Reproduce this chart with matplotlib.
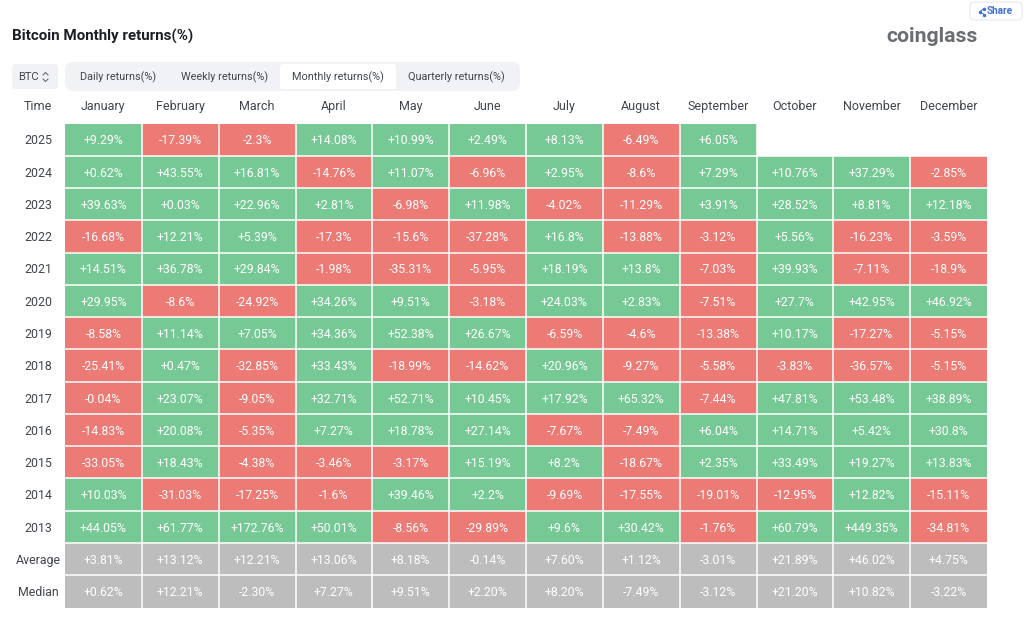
import numpy as np
import matplotlib.pyplot as plt
from matplotlib.colors import ListedColormap
from matplotlib.patches import FancyBboxPatch

plt.rcParams['font.family'] = ['Roboto', 'DejaVu Sans']

months = ['January', 'February', 'March', 'April', 'May', 'June', 'July',
          'August', 'September', 'October', 'November', 'December']
years = ['2025', '2024', '2023', '2022', '2021', '2020', '2019', '2018',
         '2017', '2016', '2015', '2014', '2013']
tabs = ['Daily returns(%)', 'Weekly returns(%)', 'Monthly returns(%)', 'Quarterly returns(%)']

r2025 = [9.29, -17.39, -2.3, 14.08, 10.99, 2.49, 8.13, -6.49, 6.05, np.nan, np.nan, np.nan]
r2024 = [0.62, 43.55, 16.81, -14.76, 11.07, -6.96, 2.95, -8.6, 7.29, 10.76, 37.29, -2.85]
r2023 = [39.63, 0.03, 22.96, 2.81, -6.98, 11.98, -4.02, -11.29, 3.91, 28.52, 8.81, 12.18]
r2022 = [-16.68, 12.21, 5.39, -17.3, -15.6, -37.28, 16.8, -13.88, -3.12, 5.56, -16.23, -3.59]
r2021 = [14.51, 36.78, 29.84, -1.98, -35.31, -5.95, 18.19, 13.8, -7.03, 39.93, -7.11, -18.9]
r2020 = [29.95, -8.6, -24.92, 34.26, 9.51, -3.18, 24.03, 2.83, -7.51, 27.7, 42.95, 46.92]
r2019 = [-8.58, 11.14, 7.05, 34.36, 52.38, 26.67, -6.59, -4.6, -13.38, 10.17, -17.27, -5.15]
r2018 = [-25.41, 0.47, -32.85, 33.43, -18.99, -14.62, 20.96, -9.27, -5.58, -3.83, -36.57, -5.15]
r2017 = [-0.04, 23.07, -9.05, 32.71, 52.71, 10.45, 17.92, 65.32, -7.44, 47.81, 53.48, 38.89]
r2016 = [-14.83, 20.08, -5.35, 7.27, 18.78, 27.14, -7.67, -7.49, 6.04, 14.71, 5.42, 30.8]
r2015 = [-33.05, 18.43, -4.38, -3.46, -3.17, 15.19, 8.2, -18.67, 2.35, 33.49, 19.27, 13.83]
r2014 = [10.03, -31.03, -17.25, -1.6, 39.46, 2.2, -9.69, -17.55, -19.01, -12.95, 12.82, -15.11]
r2013 = [44.05, 61.77, 172.76, 50.01, -8.56, -29.89, 9.6, 30.42, -1.76, 60.79, 449.35, -34.81]
average = [3.81, 13.12, 12.21, 13.06, 8.18, -0.14, 7.60, 1.12, -3.01, 21.89, 46.02, 4.75]
median = [0.62, 12.21, -2.30, 7.27, 9.51, 2.20, 8.20, -7.49, -3.12, 21.20, 10.82, -3.22]

year_rows = [r2025, r2024, r2023, r2022, r2021, r2020, r2019, r2018,
             r2017, r2016, r2015, r2014, r2013]

W, H = 1024, 620
GREEN, RED, GRAY = '#76C995', '#EC7A75', '#BDBDBD'
TXT = '#41464d'
BLUE = '#3f73d8'

fig = plt.figure(figsize=(W / 100, H / 100), dpi=100, facecolor='white')

# overlay in pixels for the page furniture
bg = fig.add_axes([0, 0, 1, 1])
bg.set_xlim(0, W)
bg.set_ylim(H, 0)
bg.axis('off')


def pill(x0, y0, w, h, r, fc, ec='none'):
    bg.add_patch(FancyBboxPatch((x0 + r, y0 + r), w - 2 * r, h - 2 * r,
                                boxstyle=f'round,pad={r}', fc=fc, ec=ec, lw=0.8))


bg.text(12, 36.5, 'Bitcoin Monthly returns(%)', fontsize=10.9, fontweight='bold',
        color='#1c1f24', va='center')
bg.text(886, 36, 'coinglass', fontsize=15.2, fontweight='bold', color='#6a6e73', va='center')

# share button with its little icon
pill(970, 2, 52, 18, 4, 'white', '#e6e9f0')
bg.plot([984, 980, 984], [8.5, 11.5, 14.5], color=BLUE, lw=0.7, marker='o', ms=1.5)
bg.text(987, 11.5, 'Share', fontsize=7.2, fontweight='bold', color=BLUE, va='center')

# coin selector
pill(12, 64, 46, 25, 4, '#f1f2f6')
bg.text(18, 77, 'BTC', fontsize=8, color=TXT, va='center')
bg.plot([43, 45.5, 48], [75, 72.5, 75], color='#6a6e73', lw=0.8)
bg.plot([43, 45.5, 48], [79, 81.5, 79], color='#6a6e73', lw=0.8)

# tab bar
pill(65, 62, 455, 29, 8, '#f1f2f6')
pill(280, 64, 116, 25, 3, 'white')
for cx, label in zip([118, 224.5, 338, 456.5], tabs):
    bg.text(cx, 77, label, fontsize=7.8, color=TXT, ha='center', va='center')

# table grid
ax = fig.add_axes([65 / W, 1 - 607.5 / H, 922 / W, 484 / H])
values = np.array(year_rows + [average, median], dtype=float)
codes = np.where(values >= 0, 0.0, 1.0)
codes[len(years):] = 2
codes[np.isnan(values)] = np.nan
cmap = ListedColormap([GREEN, RED, GRAY])
ax.pcolormesh(np.ma.masked_invalid(codes), cmap=cmap, vmin=0, vmax=2)
ax.set_xlim(0, 12)
ax.set_ylim(15, 0)
ax.axis('off')

# white separators between the cells
ax.vlines(np.arange(1, len(months)), 0, values.shape[0], color='white', lw=1.1)
ax.hlines(np.arange(1, values.shape[0]), 0, len(months), color='white', lw=1.1)

for i, row in enumerate(values):
    for j, v in enumerate(row):
        if np.isnan(v):
            continue
        label = f'{v:+g}%' if i < len(years) else f'{v:+.2f}%'
        ax.text(j + 0.5, i + 0.54, label, color='white', fontsize=8.8,
                ha='center', va='center')

for i, label in enumerate(years + ['Average', 'Median']):
    ax.text(-0.35, i + 0.54, label, color=TXT, fontsize=8.9, ha='center', va='center')
for j, label in enumerate(months):
    ax.text(j + 0.5, -0.52, label, color=TXT, fontsize=9, ha='center', va='center')
ax.text(-0.35, -0.52, 'Time', color=TXT, fontsize=9, ha='center', va='center')

fig.savefig('out.png', dpi=100)
